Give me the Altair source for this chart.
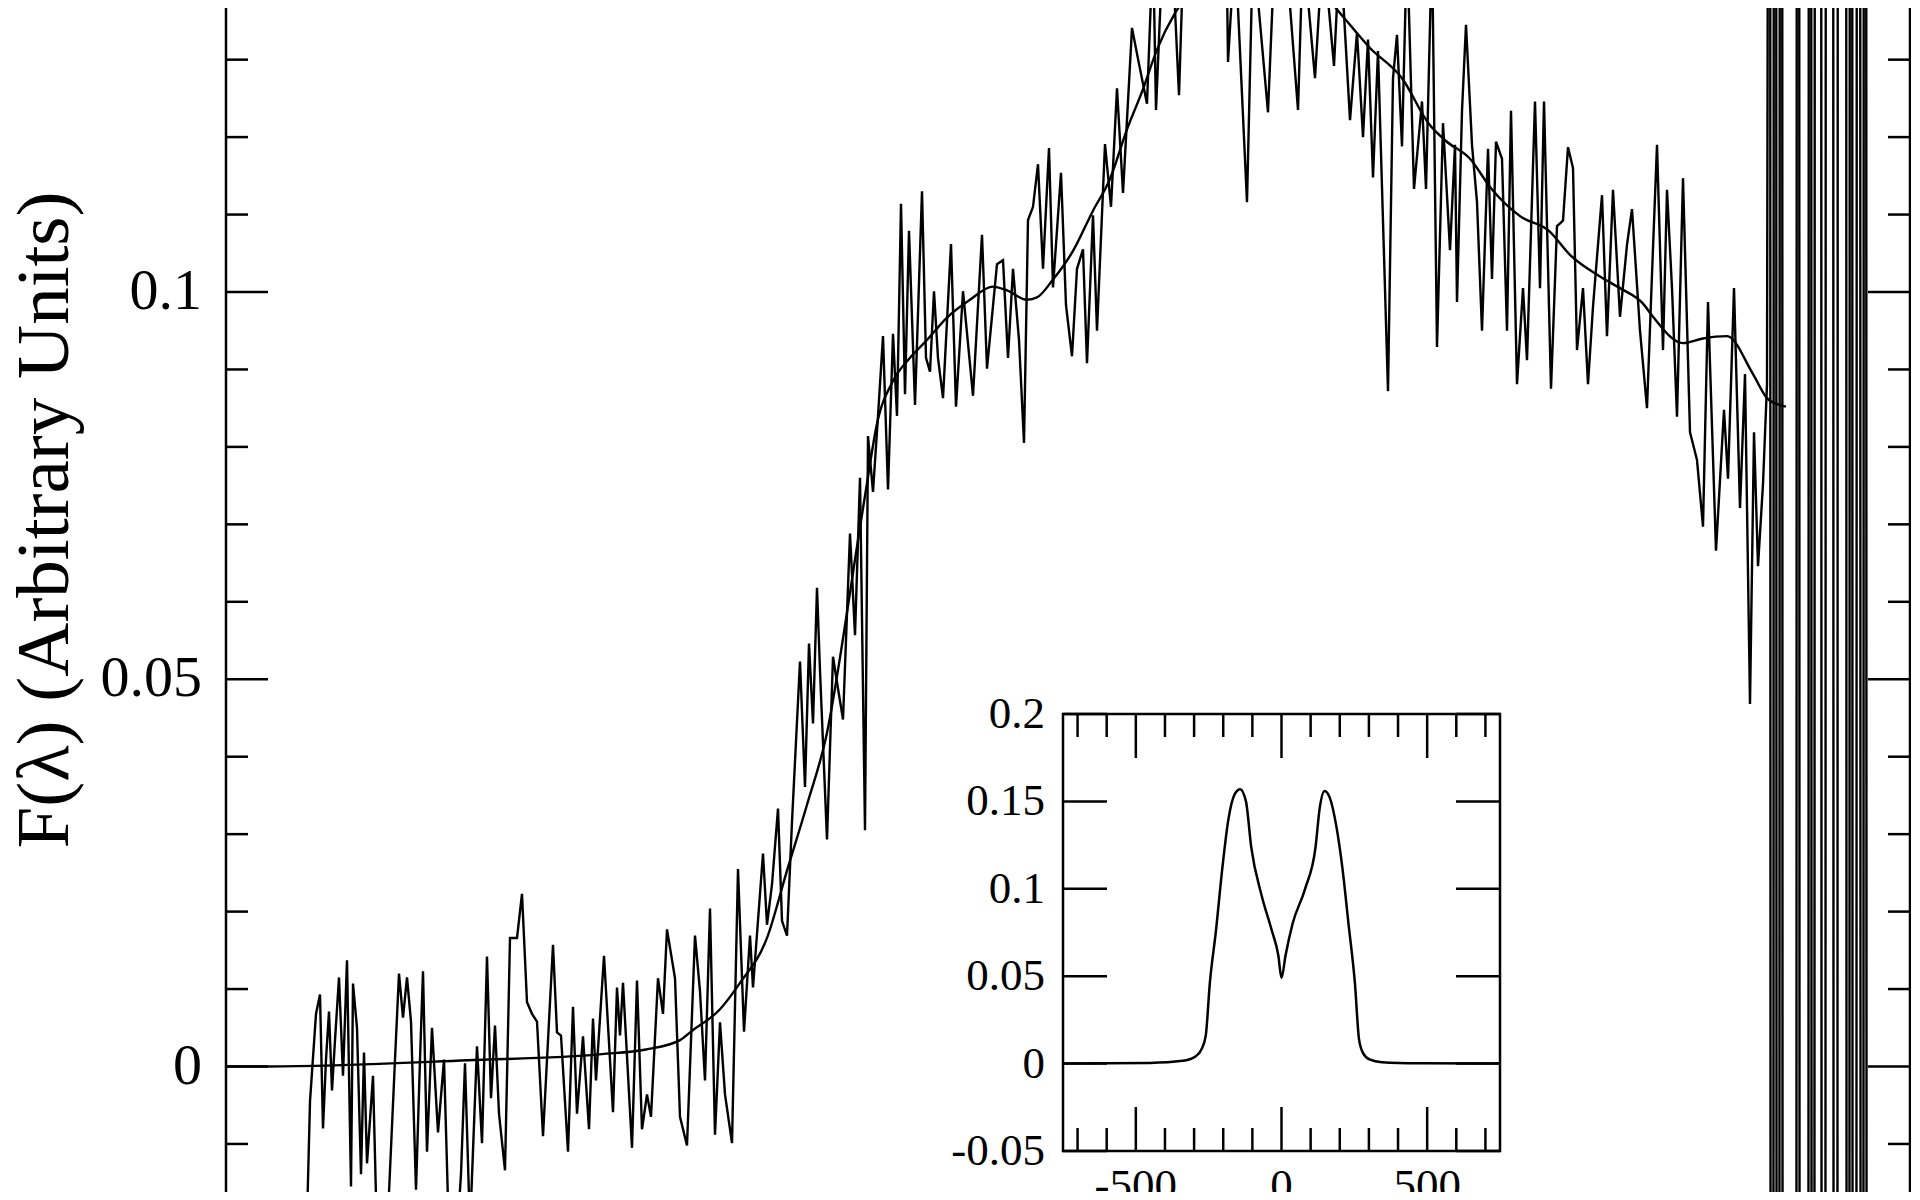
import altair as alt
import pandas as pd

# ---------------- data ----------------
# main spectrum: x in arbitrary wavelength units, flux F(lambda)
noisy_x = [306, 310, 316, 320, 323, 326, 329, 332, 335, 339, 343, 347, 351, 353, 357, 361, 364, 367, 373, 377,
           387, 395, 399, 403, 407, 411, 416, 420, 423, 427, 432, 438, 444, 449, 457, 461, 465, 470, 477, 482,
           487, 491, 495, 499, 505, 510, 517, 522, 527, 532, 537, 543, 553, 557, 561, 568, 573, 577,
           583, 589, 593, 596, 604, 613, 617, 620, 623, 632, 637, 642, 647, 651, 658, 663, 667, 675, 680, 687,
           695, 700, 705, 710, 715, 720, 725, 732, 738, 744, 750, 753, 763, 767, 772, 778, 782, 787, 792, 800,
           805, 809, 813, 817, 820, 827, 833, 838, 843, 850, 855, 860, 865, 868,
           873, 878, 883, 888, 893, 897, 901, 905, 909, 915, 922, 926, 930, 934, 938, 943, 951, 956, 963, 973,
           982, 987, 997, 1003, 1008, 1013, 1019, 1024, 1028, 1033, 1038, 1043, 1049, 1053, 1061, 1066, 1072,
           1077, 1083, 1087, 1093, 1097, 1105, 1111, 1117, 1123, 1132, 1138, 1147, 1153, 1156, 1163, 1173,
           1179, 1185, 1200, 1215, 1225, 1228, 1235, 1247, 1253, 1268, 1275, 1287, 1298, 1303, 1315, 1323,
           1334, 1340, 1350, 1357, 1363, 1368, 1373, 1378, 1388, 1393, 1397, 1402, 1407, 1414, 1422, 1426,
           1432, 1437,
           1443, 1450, 1455, 1457, 1462, 1466, 1472, 1477, 1482, 1488, 1492, 1496, 1502, 1507, 1511, 1517,
           1523, 1527, 1535, 1540, 1544, 1551, 1557, 1563, 1568, 1573, 1577, 1583, 1588, 1593, 1602, 1607,
           1613, 1620, 1627, 1632, 1640, 1647, 1652, 1657, 1663, 1667, 1672, 1677, 1683, 1690, 1697, 1703,
           1708, 1716, 1724, 1728, 1734, 1740, 1745, 1750, 1754, 1758, 1763, 1767,
           1770, 1771, 1773, 1774, 1776, 1777, 1779, 1780, 1782, 1783, 1796, 1797, 1799, 1800, 1808, 1809,
           1811, 1812, 1814, 1815, 1821, 1822, 1825, 1826, 1833, 1834, 1837, 1838, 1846, 1847, 1849, 1850,
           1852, 1853, 1856, 1857, 1860, 1861, 1863, 1864, 1866, 1867, 1869]
noisy_f = [-0.025, -0.0045, 0.0068, 0.0093, -0.008, 0.0009, 0.0071, -0.0031, 0.0034, 0.0115, -0.0012, 0.0137,
           -0.0155, 0.0107, 0.005, -0.0139, 0.0018, -0.0125, -0.0012, -0.022,
           -0.022, 0.0009, 0.012, 0.0063, 0.0115, 0.0058, -0.0159, 0.0009, 0.0123, -0.011, 0.005, -0.0085,
           0.0009, -0.022, -0.022, -0.0139, 0.0004, -0.021, 0.0026, -0.0099,
           0.0142, -0.0041, 0.0053, -0.0061, -0.0134, 0.0166, 0.0166, 0.0223, 0.0083, 0.0068, 0.0058, -0.009,
           0.0157, 0.0044, 0.004, -0.011, 0.0077, -0.0061,
           0.0039, -0.0081, 0.0062, -0.0018, 0.0143, -0.0059, 0.0102, 0.004, 0.0108, -0.0105, 0.0111, -0.0081,
           -0.0036, -0.0065, 0.0114, 0.0068, 0.0177, 0.0114, -0.0065, -0.0102,
           0.0169, 0.0097, -0.0018, 0.0204, -0.0088, 0.0057, -0.0036, -0.0099, 0.0255, 0.0045, 0.0169, 0.0102,
           0.0275, 0.0183, 0.0235, 0.0333, 0.0188, 0.0169, 0.0316, 0.0523,
           0.0361, 0.0546, 0.0443, 0.0618, 0.0511, 0.0293, 0.0529, 0.0488, 0.0448, 0.0688, 0.0557, 0.076,
           0.0305, 0.0814,
           0.0742, 0.084, 0.0943, 0.0745, 0.0946, 0.084, 0.1114, 0.0868, 0.1079, 0.0854, 0.113, 0.0915, 0.0897,
           0.1001, 0.0915, 0.0863, 0.1062, 0.0852, 0.1001, 0.0866,
           0.1074, 0.0901, 0.1036, 0.1041, 0.0915, 0.103, 0.0938, 0.0805, 0.1093, 0.111, 0.1165, 0.103, 0.1186,
           0.1006, 0.1154, 0.0983, 0.0917,
           0.103, 0.1055, 0.0908, 0.1099, 0.095, 0.1191, 0.111, 0.1263, 0.1128, 0.1341, 0.1301, 0.1243, 0.145,
           0.1235, 0.145, 0.142,
           0.1254, 0.15, 0.16, 0.155, 0.16, 0.1297, 0.145, 0.1116, 0.145, 0.1232, 0.145, 0.142, 0.1235, 0.145,
           0.1276, 0.145,
           0.1292, 0.145, 0.1222, 0.1335, 0.12, 0.1326, 0.1148, 0.1311, 0.0872, 0.1276, 0.1332, 0.1188, 0.145,
           0.1133, 0.1246, 0.1133,
           0.145, 0.0929,
           0.1218, 0.1054, 0.119, 0.0987, 0.1234, 0.1345, 0.119, 0.1116, 0.095, 0.1185, 0.1017, 0.1194, 0.1172,
           0.095, 0.1234, 0.0881,
           0.1005, 0.0912, 0.1246, 0.1005, 0.1246, 0.0875, 0.1085, 0.1092, 0.1187, 0.116, 0.0925, 0.1005,
           0.0881, 0.0981, 0.1125, 0.0943,
           0.1132, 0.0968, 0.1061, 0.1107, 0.095, 0.085, 0.1023, 0.119, 0.0925, 0.1132, 0.1005, 0.0839, 0.1147,
           0.0819, 0.0783, 0.0697,
           0.0987, 0.0666, 0.0848, 0.0759, 0.1005, 0.0721, 0.0894, 0.0468, 0.0819, 0.0646, 0.0752, 0.0881,
           0.3, -0.3, -0.3, 0.3, 0.3, -0.3, -0.3, 0.3, 0.3, -0.3, -0.3, 0.3, 0.3, -0.3, -0.3, 0.3,
           0.3, -0.3, -0.3, 0.3, 0.3, -0.3, -0.3, 0.3, 0.3, -0.3, -0.3, 0.3, 0.3, -0.3, -0.3, 0.3,
           0.3, -0.3, -0.3, 0.3, 0.3, -0.3, -0.3, 0.3, 0.3, -0.3, -0.3]

# smooth fitted profile
smooth_x = [226, 267, 468, 602, 646, 680, 691, 720, 740, 767, 787, 807, 827, 847, 858, 866, 877, 893, 910, 927,
            947, 970, 993, 1007, 1027, 1037, 1053, 1073, 1093, 1110, 1127, 1143, 1157, 1175, 1200, 1240, 1280,
            1320, 1344, 1370, 1402, 1429, 1446, 1470, 1491, 1520, 1549, 1570, 1600, 1620, 1643, 1653, 1683,
            1703, 1727, 1753, 1767, 1780, 1786]
smooth_f = [0, 0, 0.0008, 0.0016, 0.0022, 0.0034, 0.0045, 0.0074, 0.0108, 0.0166, 0.0253, 0.0338, 0.0431,
            0.0586, 0.068, 0.0745, 0.083, 0.0885, 0.0915, 0.0938, 0.0967, 0.099, 0.1007, 0.1002, 0.099, 0.0993,
            0.1016, 0.1053, 0.1105, 0.1146, 0.121, 0.1262, 0.1313, 0.136, 0.14, 0.1425, 0.142, 0.139, 0.1354,
            0.1315, 0.1276, 0.1217, 0.1195, 0.1172, 0.1134, 0.1098, 0.1079, 0.1048, 0.102, 0.1005, 0.0985,
            0.0968, 0.0934, 0.094, 0.0943, 0.0894, 0.0863, 0.0854, 0.0852]

# inset: double-peaked line profile
inset_v = [-750, -452, -339, -296, -275, -260, -246, -225, -203, -182, -161, -142, -122, -104, -68, -33, -11, 0,
           14, 38, 81, 117, 131, 148, 166, 188, 209, 230, 252, 266, 280, 302, 344, 472, 750]
inset_f = [0, 0.0004, 0.0016, 0.004, 0.008, 0.016, 0.046, 0.076, 0.112, 0.14, 0.154, 0.157, 0.15, 0.124, 0.096,
           0.076, 0.062, 0.049, 0.062, 0.08, 0.1, 0.124, 0.146, 0.156, 0.152, 0.136, 0.112, 0.08, 0.046, 0.014,
           0.006, 0.0024, 0.0008, 0.0002, 0]

# axis ticks / labels
main_major = [0, 0.05, 0.1]
main_labels = ["0", "0.05", "0.1"]
main_minor = [-0.01, 0.01, 0.02, 0.03, 0.04, 0.06, 0.07, 0.08, 0.09, 0.11, 0.12, 0.13]
y_title = "F(λ) (Arbitrary Units)"
inset_yticks = [-0.05, 0, 0.05, 0.1, 0.15, 0.2]
inset_ylabels = ["-0.05", "0", "0.05", "0.1", "0.15", "0.2"]
inset_xmajor = [-500, 0, 500]
inset_xlabels = ["-500", "0", "500"]
inset_xminor = [-700, -600, -400, -300, -200, -100, 100, 200, 300, 400, 600, 700]
inset_xlim = [-750, 750]
inset_ylim = [-0.05, 0.2]

# ---------------- layout ----------------
W, H = 1685, 1184
FONT = "Liberation Serif"
X_MAIN = alt.Scale(domain=[226, 1911], nice=False, zero=False)
Y_MAIN = alt.Scale(domain=[-0.016204, 0.13667], nice=False, zero=False)
X_IN = alt.Scale(domain=inset_xlim, range=[837, 1274], nice=False, zero=False)
Y_IN = alt.Scale(domain=inset_ylim, range=[1143, 706], nice=False, zero=False)

df_noisy = pd.DataFrame({"lam": noisy_x, "flux": noisy_f})
df_smooth = pd.DataFrame({"lam": smooth_x, "flux": smooth_f})

noisy = alt.Chart(df_noisy).mark_line(color="black", strokeWidth=2.4, clip=True).encode(
    x=alt.X("lam:Q", scale=X_MAIN, axis=None),
    y=alt.Y("flux:Q", scale=Y_MAIN, axis=None),
)
smooth = alt.Chart(df_smooth).mark_line(color="black", strokeWidth=2.4, clip=True,
                                        interpolate="monotone").encode(
    x=alt.X("lam:Q", scale=X_MAIN, axis=None),
    y=alt.Y("flux:Q", scale=Y_MAIN, axis=None),
)

df_major = pd.DataFrame({"t": main_major, "lab": main_labels})
df_minor = pd.DataFrame({"t": main_minor})
tick_layers = []
for df_t, ln in ((df_major, 42), (df_minor, 22)):
    tick_layers.append(alt.Chart(df_t).mark_rule(color="black", strokeWidth=2.5).encode(
        y=alt.Y("t:Q", scale=Y_MAIN, axis=None), x=alt.value(0), x2=alt.value(ln)))
    tick_layers.append(alt.Chart(df_t).mark_rule(color="black", strokeWidth=2.5).encode(
        y=alt.Y("t:Q", scale=Y_MAIN, axis=None), x=alt.value(W - 1 - ln), x2=alt.value(W - 1)))

main_labels_layer = alt.Chart(df_major).mark_text(align="right", baseline="middle", font=FONT,
                                                  fontSize=58, color="black").encode(
    y=alt.Y("t:Q", scale=Y_MAIN, axis=None), x=alt.value(-24), text="lab:N")

df_border = pd.DataFrame({"t": [0]})
left_border = alt.Chart(df_border).mark_rule(color="black", strokeWidth=2.5).encode(
    x=alt.value(0), y=alt.value(0), y2=alt.value(H))
right_border = alt.Chart(df_border).mark_rule(color="black", strokeWidth=2.5).encode(
    x=alt.value(W - 1), y=alt.value(0), y2=alt.value(H))

title_layer = alt.Chart(pd.DataFrame({"lab": [y_title]})).mark_text(
    angle=270, align="center", baseline="alphabetic", font=FONT, fontSize=75, color="black").encode(
    x=alt.value(-158), y=alt.value(512), text="lab:N")

main_group = alt.layer(noisy, smooth, *tick_layers, left_border, right_border, main_labels_layer, title_layer)

# ---------------- inset ----------------
df_frame = pd.DataFrame({"x0": [inset_xlim[0]], "x1": [inset_xlim[1]],
                         "y0": [inset_ylim[0]], "y1": [inset_ylim[1]]})
frame = alt.Chart(df_frame).mark_rect(color="white", stroke="black", strokeWidth=2.5).encode(
    x=alt.X("x0:Q", scale=X_IN, axis=None), x2="x1:Q",
    y=alt.Y("y0:Q", scale=Y_IN, axis=None), y2="y1:Q")

df_iy = pd.DataFrame({"t": inset_yticks, "lab": inset_ylabels,
                      "xl": [inset_xlim[0]] * len(inset_yticks), "xr": [inset_xlim[1]] * len(inset_yticks)})
iy_left = alt.Chart(df_iy).mark_rule(color="black", strokeWidth=2.5, x2Offset=44).encode(
    x=alt.X("xl:Q", scale=X_IN, axis=None), x2="xl:Q", y=alt.Y("t:Q", scale=Y_IN, axis=None))
iy_right = alt.Chart(df_iy).mark_rule(color="black", strokeWidth=2.5, x2Offset=-44).encode(
    x=alt.X("xr:Q", scale=X_IN, axis=None), x2="xr:Q", y=alt.Y("t:Q", scale=Y_IN, axis=None))
iy_text = alt.Chart(df_iy).mark_text(align="right", baseline="middle", dx=-18, font=FONT, fontSize=45,
                                      color="black").encode(
    x=alt.X("xl:Q", scale=X_IN, axis=None), y=alt.Y("t:Q", scale=Y_IN, axis=None), text="lab:N")

inset_x_layers = []
for vals, ln in ((inset_xmajor, 44), (inset_xminor, 23)):
    d = pd.DataFrame({"v": vals, "yb": [inset_ylim[0]] * len(vals), "yt": [inset_ylim[1]] * len(vals)})
    inset_x_layers.append(alt.Chart(d).mark_rule(color="black", strokeWidth=2.5, y2Offset=-ln).encode(
        x=alt.X("v:Q", scale=X_IN, axis=None), y=alt.Y("yb:Q", scale=Y_IN, axis=None), y2="yb:Q"))
    inset_x_layers.append(alt.Chart(d).mark_rule(color="black", strokeWidth=2.5, y2Offset=ln).encode(
        x=alt.X("v:Q", scale=X_IN, axis=None), y=alt.Y("yt:Q", scale=Y_IN, axis=None), y2="yt:Q"))

df_ix = pd.DataFrame({"v": inset_xmajor, "lab": inset_xlabels, "yb": [inset_ylim[0]] * len(inset_xmajor)})
ix_text = alt.Chart(df_ix).mark_text(align="center", baseline="top", dy=13, font=FONT, fontSize=45,
                                      color="black").encode(
    x=alt.X("v:Q", scale=X_IN, axis=None), y=alt.Y("yb:Q", scale=Y_IN, axis=None), text="lab:N")

df_inset = pd.DataFrame({"v": inset_v, "f": inset_f})
inset_line = alt.Chart(df_inset).mark_line(color="black", strokeWidth=2.5, interpolate="monotone").encode(
    x=alt.X("v:Q", scale=X_IN, axis=None), y=alt.Y("f:Q", scale=Y_IN, axis=None))

inset_group = alt.layer(frame, iy_left, iy_right, iy_text, *inset_x_layers, ix_text, inset_line)

chart = alt.layer(main_group, inset_group).resolve_scale(
    x="independent", y="independent"
).properties(
    width=W, height=H,
    padding={"left": 218, "top": 0, "right": 0, "bottom": 0},
    autosize=alt.AutoSizeParams(type="none"),
    background="white",
).configure_view(stroke=None)

chart.save("out.html", embed_options={"renderer": "svg", "actions": False})
